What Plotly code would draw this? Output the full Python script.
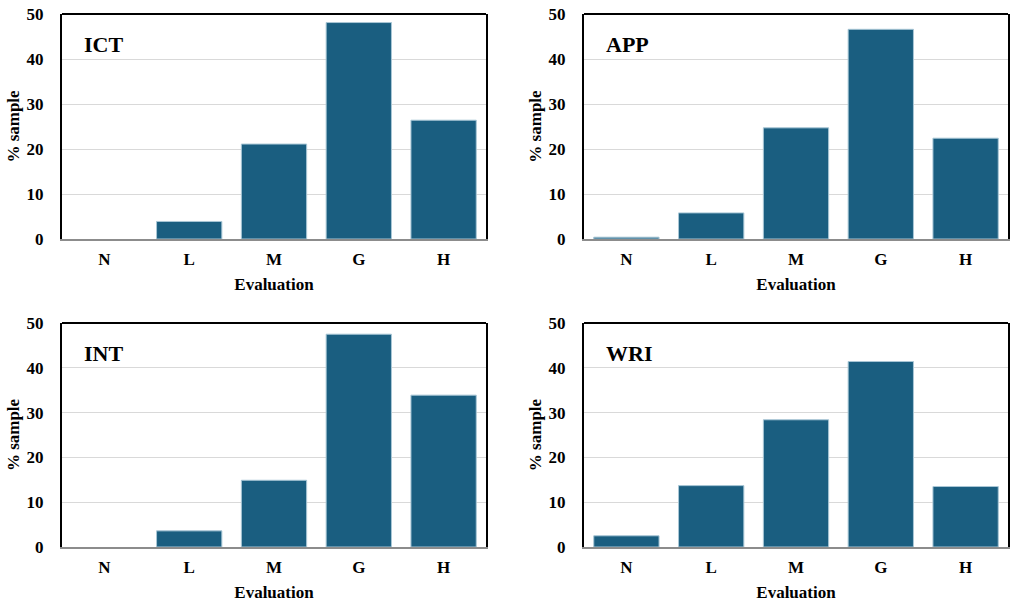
import plotly.graph_objects as go

categories = ["N", "L", "M", "G", "H"]
panel_names = ["ICT", "APP", "INT", "WRI"]
ict_values = [0.0, 3.9, 21.1, 48.1, 26.4]
app_values = [0.4, 5.8, 24.7, 46.6, 22.4]
int_values = [0.0, 3.6, 14.9, 47.5, 33.9]
wri_values = [2.5, 13.7, 28.4, 41.4, 13.5]
y_ticks = [0, 10, 20, 30, 40, 50]

series = [ict_values, app_values, int_values, wri_values]

W, H = 1012, 606
x_domains = [[62 / W, 486 / W], [584 / W, 1008 / W]]
y_domains = [[1 - 239 / H, 1 - 14 / H], [1 - 547 / H, 1 - 323 / H]]

FONT = "Liberation Serif, Times New Roman, serif"
BAR = "#1a5e80"
EDGE = "#a9c7d6"
FS = 17

fig = go.Figure()
layout = dict(
    template="none",
    width=W, height=H, autosize=False,
    margin=dict(l=0, r=0, t=0, b=0, pad=0, autoexpand=False),
    paper_bgcolor="white", plot_bgcolor="white",
    showlegend=False, bargap=0.23,
    font=dict(family=FONT, color="black", size=FS),
    annotations=[], shapes=[],
)

for i, (name, vals) in enumerate(zip(panel_names, series)):
    row, col = divmod(i, 2)
    n = i + 1
    xa = "x" if n == 1 else f"x{n}"
    ya = "y" if n == 1 else f"y{n}"
    edge_colors = [EDGE if v > 0 else "rgba(0,0,0,0)" for v in vals]
    fig.add_trace(go.Bar(
        x=categories, y=vals, xaxis=xa, yaxis=ya,
        marker=dict(color=BAR, line=dict(color=edge_colors, width=1)),
    ))
    xkey = "xaxis" if n == 1 else f"xaxis{n}"
    ykey = "yaxis" if n == 1 else f"yaxis{n}"
    layout[xkey] = dict(
        domain=x_domains[col], anchor=ya, automargin=False,
        type="category", categoryorder="array", categoryarray=categories,
        range=[-0.5, 4.5],
        showline=True, linecolor="#8c8c8c", linewidth=2,
        showgrid=False, zeroline=False, ticks="", ticklabelstandoff=4,
        tickfont=dict(family=FONT, size=FS, weight="bold"),
        title=dict(text="Evaluation", standoff=10,
                   font=dict(family=FONT, size=FS, weight="bold")),
    )
    layout[ykey] = dict(
        domain=y_domains[row], anchor=xa, automargin=False,
        range=[0, 50], tickvals=y_ticks,
        showline=True, linecolor="black", linewidth=2, mirror=True,
        showgrid=True, gridcolor="#d9d9d9", gridwidth=1,
        zeroline=False, ticks="", ticklabelstandoff=13,
        tickfont=dict(family=FONT, size=FS, weight="bold"),
        title=dict(text="% sample", standoff=3,
                   font=dict(family=FONT, size=FS, weight="bold")),
    )
    layout["shapes"].append(dict(
        type="line", xref=f"{xa} domain", yref=f"{ya} domain",
        x0=0, x1=1, y0=1, y1=1, line=dict(color="black", width=2),
    ))
    layout["annotations"].append(dict(
        text=f"<b>{name}</b>", xref=f"{xa} domain", yref=f"{ya} domain",
        x=0.048, y=0.866, xanchor="left", yanchor="middle", showarrow=False,
        font=dict(family=FONT, size=22, color="black"),
    ))

fig.update_layout(**layout)
fig.write_html(
    "out.html",
    config={"displayModeBar": False},
    post_script="document.body.style.margin='0px';document.body.style.overflow='hidden';",
)
